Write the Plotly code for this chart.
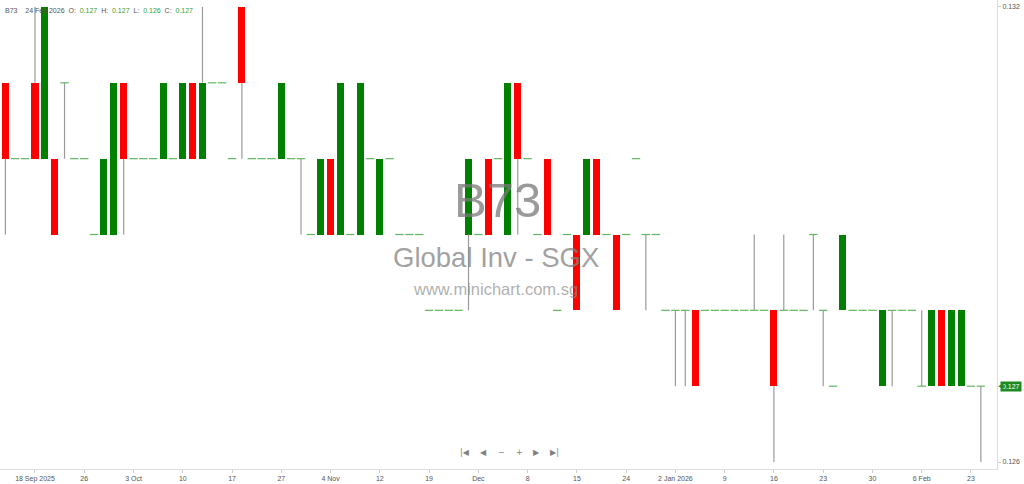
import plotly.graph_objects as go

# ---------------- data (price in SGD) ----------------
opens = [0.131, 0.130, 0.130, 0.131, 0.130, 0.130, 0.131, 0.130, 0.130, 0.129,
         0.129, 0.129, 0.131, 0.130, 0.130, 0.130, 0.130, 0.130, 0.130, 0.131,
         0.130, 0.131, 0.131, 0.130, 0.132, 0.130, 0.130, 0.130, 0.130, 0.130,
         0.130, 0.129, 0.129, 0.130, 0.129, 0.129, 0.129, 0.130, 0.129, 0.130,
         0.129, 0.129, 0.129, 0.128, 0.128, 0.128, 0.128, 0.129, 0.129, 0.130,
         0.130, 0.129, 0.131, 0.130, 0.129, 0.130, 0.128, 0.129, 0.129, 0.129,
         0.130, 0.129, 0.129, 0.129, 0.130, 0.129, 0.129, 0.128, 0.128, 0.128,
         0.128, 0.128, 0.128, 0.128, 0.128, 0.128, 0.128, 0.128, 0.128, 0.128,
         0.128, 0.128, 0.129, 0.128, 0.127, 0.128, 0.128, 0.128, 0.128, 0.127,
         0.128, 0.128, 0.128, 0.127, 0.127, 0.128, 0.127, 0.127, 0.127, 0.127]
highs = [0.131, 0.130, 0.130, 0.132, 0.132, 0.130, 0.131, 0.130, 0.130, 0.129,
         0.130, 0.131, 0.131, 0.130, 0.130, 0.130, 0.131, 0.130, 0.131, 0.131,
         0.132, 0.131, 0.131, 0.130, 0.132, 0.130, 0.130, 0.130, 0.131, 0.130,
         0.130, 0.129, 0.130, 0.130, 0.131, 0.129, 0.131, 0.130, 0.130, 0.130,
         0.129, 0.129, 0.129, 0.128, 0.128, 0.128, 0.128, 0.130, 0.129, 0.130,
         0.130, 0.131, 0.131, 0.130, 0.129, 0.130, 0.128, 0.129, 0.129, 0.130,
         0.130, 0.129, 0.129, 0.129, 0.130, 0.129, 0.129, 0.128, 0.128, 0.128,
         0.128, 0.128, 0.128, 0.128, 0.128, 0.128, 0.129, 0.128, 0.128, 0.129,
         0.128, 0.128, 0.129, 0.128, 0.127, 0.129, 0.128, 0.128, 0.128, 0.128,
         0.128, 0.128, 0.128, 0.128, 0.128, 0.128, 0.128, 0.128, 0.127, 0.127]
lows = [0.129, 0.130, 0.130, 0.130, 0.130, 0.129, 0.130, 0.130, 0.130, 0.129,
        0.129, 0.129, 0.129, 0.130, 0.130, 0.130, 0.130, 0.130, 0.130, 0.130,
        0.130, 0.131, 0.131, 0.130, 0.130, 0.130, 0.130, 0.130, 0.130, 0.130,
        0.129, 0.129, 0.129, 0.129, 0.129, 0.129, 0.129, 0.130, 0.129, 0.130,
        0.129, 0.129, 0.129, 0.128, 0.128, 0.128, 0.128, 0.128, 0.129, 0.129,
        0.130, 0.129, 0.129, 0.130, 0.129, 0.129, 0.128, 0.129, 0.128, 0.129,
        0.129, 0.129, 0.128, 0.129, 0.130, 0.128, 0.129, 0.128, 0.127, 0.127,
        0.127, 0.128, 0.128, 0.128, 0.128, 0.128, 0.128, 0.128, 0.126, 0.128,
        0.128, 0.128, 0.128, 0.127, 0.127, 0.128, 0.128, 0.128, 0.128, 0.127,
        0.127, 0.128, 0.128, 0.127, 0.127, 0.127, 0.127, 0.127, 0.127, 0.126]
closes = [0.130, 0.130, 0.130, 0.130, 0.132, 0.129, 0.131, 0.130, 0.130, 0.129,
          0.130, 0.131, 0.130, 0.130, 0.130, 0.130, 0.131, 0.130, 0.131, 0.130,
          0.131, 0.131, 0.131, 0.130, 0.131, 0.130, 0.130, 0.130, 0.131, 0.130,
          0.130, 0.129, 0.130, 0.129, 0.131, 0.129, 0.131, 0.130, 0.130, 0.130,
          0.129, 0.129, 0.129, 0.128, 0.128, 0.128, 0.128, 0.130, 0.129, 0.129,
          0.130, 0.131, 0.130, 0.130, 0.129, 0.129, 0.128, 0.129, 0.128, 0.130,
          0.129, 0.129, 0.128, 0.129, 0.130, 0.129, 0.129, 0.128, 0.128, 0.128,
          0.127, 0.128, 0.128, 0.128, 0.128, 0.128, 0.128, 0.128, 0.127, 0.128,
          0.128, 0.128, 0.129, 0.128, 0.127, 0.129, 0.128, 0.128, 0.128, 0.128,
          0.128, 0.128, 0.128, 0.127, 0.128, 0.127, 0.128, 0.128, 0.127, 0.127]

# x-axis tick labels and the bar (session) they sit under
tick_bars = [3, 8, 13, 18, 23, 28, 33, 38, 43, 48, 53, 58, 63, 68, 73, 78, 83, 88, 93, 98]
tick_labels = ["18 Sep 2025", "26", "3 Oct", "10", "17", "27", "4 Nov", "12", "19", "Dec",
               "8", "15", "24", "2 Jan 2026", "9", "16", "23", "30", "6 Feb", "23"]
y_ticks = [0.126, 0.132]

symbol = "B73"
company = "Global Inv - SGX"
site = "www.minichart.com.sg"
last_date = "24 Feb 2026"

# ---------------- derived ----------------
n = len(opens)
sessions = list(range(n))

UP = "#008000"
DOWN = "#ff0000"
DOJI = "#62b562"
WICK = "#9a9a9a"
FONT = "Liberation Sans"

# wicks: only the parts outside the body (bars sit below scatter layer)
wx, wy = [], []
for i in sessions:
    top = max(opens[i], closes[i])
    bot = min(opens[i], closes[i])
    if highs[i] > top:
        wx += [i, i, None]
        wy += [top, highs[i], None]
    if lows[i] < bot:
        wx += [i, i, None]
        wy += [lows[i], bot, None]

# bodies
bx, bbase, bh, bcol = [], [], [], []
dx, dy = [], []
for i in sessions:
    o, c = opens[i], closes[i]
    if abs(c - o) > 1e-9:
        bx.append(i)
        bbase.append(min(o, c))
        bh.append(abs(c - o))
        bcol.append(UP if c > o else DOWN)
    else:
        dx.append(i)
        dy.append(o)

fig = go.Figure()
fig.add_trace(go.Scatter(x=wx, y=wy, mode="lines",
                         line=dict(color=WICK, width=1.2), hoverinfo="skip"))
fig.add_trace(go.Bar(x=bx, y=bh, base=bbase, width=0.72,
                     marker=dict(color=bcol, line=dict(width=0)), hoverinfo="skip"))
fig.add_trace(go.Scatter(x=dx, y=dy, mode="markers",
                         marker=dict(symbol="line-ew", size=6,
                                     line=dict(color=DOJI, width=1.2)),
                         hoverinfo="skip"))

# ---------------- annotations ----------------
sp = "&nbsp;"
val = lambda v: f"<span style='color:#34a034'>{v:.3f}</span>"
header = (f"{symbol}{sp*4}{last_date}{sp*2}O:{sp*2}{val(opens[-1])}{sp*2}H:{sp*2}"
          f"{val(highs[-1])}{sp*2}L:{sp*2}{val(lows[-1])}{sp*2}C:{sp*2}{val(closes[-1])}")

annotations = [
    dict(text=header, x=0, y=1, xref="paper", yref="paper", xanchor="left",
         yanchor="middle", xshift=3, yshift=-10, showarrow=False,
         font=dict(family=FONT, size=7, color="#555555")),
    dict(text=symbol, x=0.4985, y=1 - 200.5 / 469, xref="paper", yref="paper",
         showarrow=False, font=dict(family=FONT, size=49, color="rgba(120,120,120,0.75)")),
    dict(text=company, x=0.4975, y=1 - 257 / 469, xref="paper", yref="paper",
         showarrow=False, font=dict(family=FONT, size=27.5, color="rgba(130,130,130,0.75)")),
    dict(text=site, x=0.497, y=1 - 289 / 469, xref="paper", yref="paper",
         showarrow=False, font=dict(family=FONT, size=16.5, color="rgba(140,140,140,0.7)")),
    # last price tag
    dict(text=f"{closes[-1]:.3f}", x=1, y=closes[-1], xref="paper", yref="y",
         xanchor="left", yanchor="middle", xshift=3, showarrow=False,
         bgcolor="#1f8a1f", borderpad=1, font=dict(family=FONT, size=7, color="white")),
    dict(text="◀", x=1, y=closes[-1], xref="paper", yref="y",
         xanchor="left", yanchor="middle", xshift=-1, showarrow=False,
         font=dict(family="DejaVu Sans", size=7, color="#1f8a1f")),
]

nav = ["|◀", "◀", "−", "+", "▶", "▶|"]
nav_x = [465, 483.3, 501, 519, 536.7, 554.3]
for g, xp in zip(nav, nav_x):
    annotations.append(dict(text=g, x=xp / 997, y=1 - 459 / 469, xref="paper", yref="paper",
                            showarrow=False,
                            font=dict(family="DejaVu Sans", size=8, color="#808080")))

fig.update_layout(
    width=1024, height=484,
    margin=dict(l=0, r=27, t=0, b=15),
    plot_bgcolor="white", paper_bgcolor="white",
    showlegend=False, bargap=0,
    annotations=annotations,
    xaxis=dict(range=[-0.55, 100.64], tickvals=tick_bars, ticktext=tick_labels,
               ticks="outside", ticklen=3, tickcolor="#cccccc", showline=True,
               linecolor="#dddddd", linewidth=1, showgrid=False, zeroline=False,
               automargin=False, tickfont=dict(family=FONT, size=7, color="#555555")),
    yaxis=dict(side="right", range=[0.125908, 0.132092], tickvals=y_ticks,
               tickformat=".3f", ticks="outside", ticklen=3, tickcolor="#cccccc",
               showline=True, linecolor="#dddddd", linewidth=1, showgrid=False,
               zeroline=False, automargin=False,
               tickfont=dict(family=FONT, size=7, color="#555555")),
)

fig.write_html("out.html", config={"displayModeBar": False},
               post_script="document.body.style.margin='0';")
